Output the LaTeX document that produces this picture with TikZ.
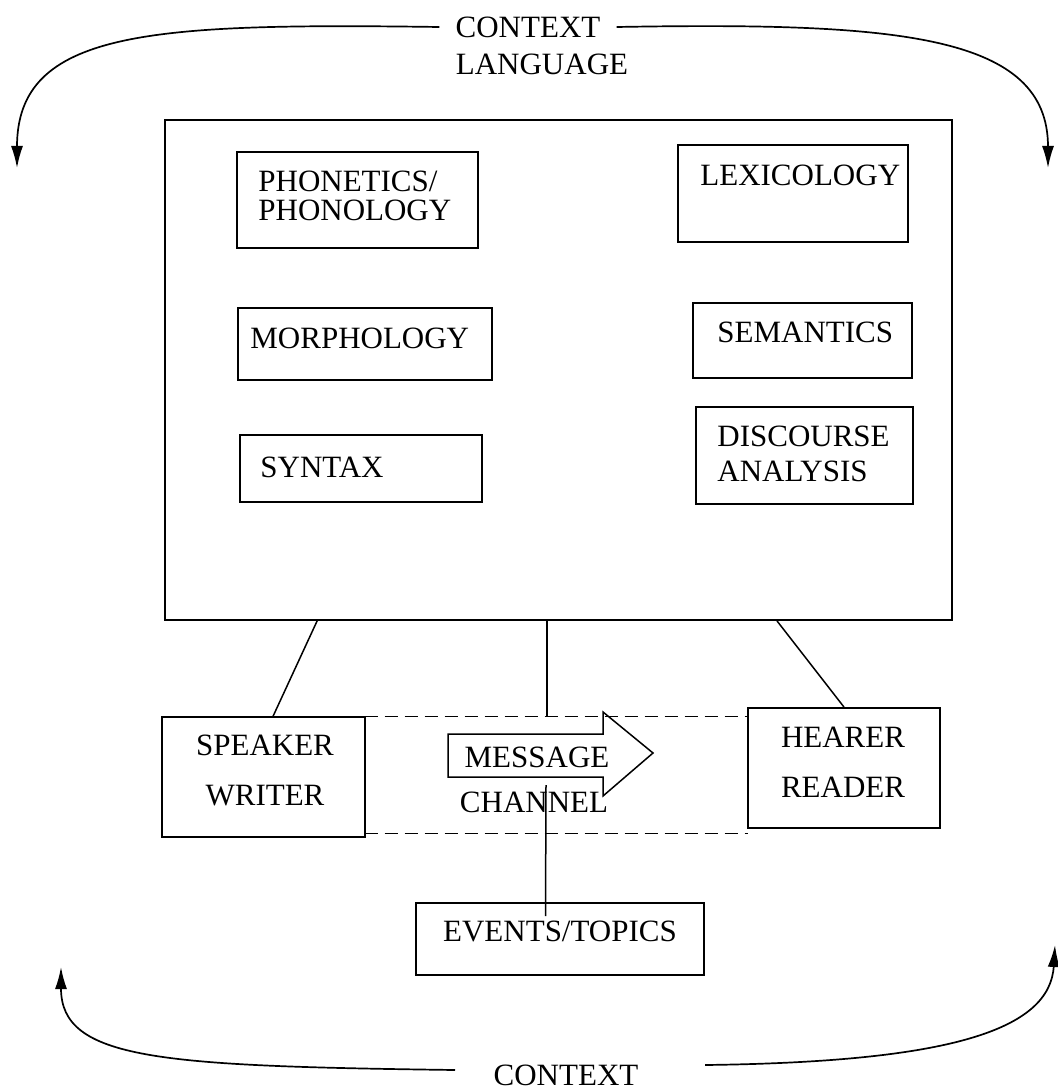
\documentclass[tikz,border=0pt]{standalone}
\usepackage{fontspec}
\setmainfont{Liberation Serif}
\usetikzlibrary{arrows.meta,calc,fit}

\begin{document}
\begin{tikzpicture}[x=0.5pt,y=-0.5pt]
\tikzset{
	box/.style = {draw, line width=0.9pt, inner sep=0},
	lbl/.style = {inner sep=0, font=\fontsize{15.5}{13}\selectfont},
	link/.style = {line width=0.75pt},
	chan line/.style = {line width=0.85pt, dash pattern=on 6.5pt off 3.5pt},
	ctx/.style = {line width=0.85pt, -{Latex[length=11pt,width=6pt]}}
}
\useasboundingbox (0,0) rectangle (1057,1091);
% language and its branches
\node(lang)[box, fit={(165,120) (952,620)}]{};
\node(langLbl)[lbl]at(542,64){LANGUAGE};
\node(phon)[box, fit={(237,152) (478,248)}]{};
\node(phonLbl)[lbl, anchor=west, align=left]at(258,196){PHONETICS/\\[1.5pt]PHONOLOGY};
\node(lex)[box, fit={(678,145) (908,242)}]{};
\node(lexLbl)[lbl, anchor=west]at(700,175){LEXICOLOGY};
\node(morph)[box, fit={(238,308) (492,380)}]{};
\node(morphLbl)[lbl, anchor=west]at(250,338){MORPHOLOGY};
\node(sem)[box, fit={(693,303) (912,378)}]{};
\node(semLbl)[lbl, anchor=west]at(717,332){SEMANTICS};
\node(syn)[box, fit={(240,435) (482,502)}]{};
\node(synLbl)[lbl, anchor=west]at(260,467){SYNTAX};
\node(disc)[box, fit={(696,407) (913,504)}]{};
\node(discLbl)[lbl, anchor=west, align=left]at(717,454){DISCOURSE\\[4.5pt]ANALYSIS};
% participants and channel
\node(spk)[box, fit={(162,717) (365,837)}]{};
\node(spkLbl)[lbl, align=center]at(265,770){SPEAKER\\[12pt]WRITER};
\node(hear)[box, fit={(748,708) (940,828)}]{};
\node(hearLbl)[lbl, align=center]at(843,762){HEARER\\[12pt]READER};
\node(chan)[inner sep=0, fit={(365,717) (748,833)}]{};
\draw[chan line] (chan.north west) -- (chan.north east);
\draw[chan line] (chan.south west) -- (chan.south east);
\draw[link] (448,734) -- (603,734) -- (603,712) -- (653,753) -- (603,796) -- (603,777) -- (448,777) -- cycle;
\node(msg)[lbl]at(537,757){MESSAGE};
\node(chanLbl)[lbl]at(534,802){CHANNEL};
\node(ev)[box, fit={(416,903) (704,975)}]{};
\node(evLbl)[lbl]at(560,931){EVENTS/TOPICS};
% links
\coordinate(midTop)at($(chan.north west)!0.475!(chan.north east)$);
\coordinate(midBot)at(546,785);
\draw[link] ($(lang.south west)!0.194!(lang.south east)$) -- ($(spk.north west)!0.547!(spk.north east)$);
\draw[link] (lang.south -| midTop) -- (midTop);
\draw[link] ($(lang.south west)!0.777!(lang.south east)$) -- (hear.north);
\draw[link] (midBot) -- ($(ev.north west)!0.45!(ev.north east)+(0,14)$);
% context
\node(ctxTop)[lbl, inner xsep=8pt]at(528,27){CONTEXT};
\node(ctxBot)[lbl]at(566,1075){CONTEXT};
\coordinate(botL)at(455,1070);
\coordinate(botR)at(705,1065);
\draw[ctx] (ctxTop.west) .. controls (150,23) and (17,30) .. (17,168);
\draw[ctx] (ctxTop.east) .. controls (900,22) and (1048,35) .. (1048,168);
\draw[ctx] (botL) .. controls (160,1066) and (61,1060) .. (61,967);
\draw[ctx] (botR) .. controls (950,1062) and (1050,1030) .. (1055,945);
\end{tikzpicture}
\end{document}
